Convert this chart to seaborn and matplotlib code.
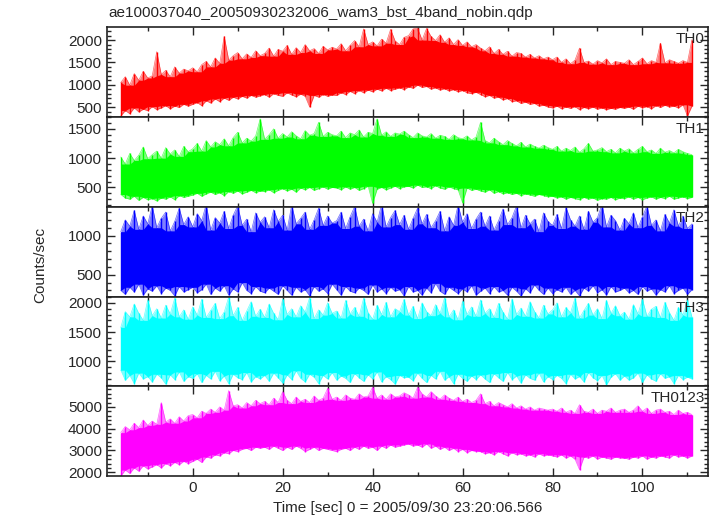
import numpy as np
import pandas as pd
import matplotlib
matplotlib.use("Agg")
import matplotlib.pyplot as plt
import seaborn as sns
from matplotlib.ticker import MultipleLocator

# time of each 1-s bin (sec since 2005/09/30 23:20:06.566)
times = list(range(-16, 112))

bands = ["TH0", "TH1", "TH2", "TH3", "TH0123"]
colors = ["#ff0000", "#00ff00", "#0000ff", "#00ffff", "#ff00ff"]

# per-second upper / lower extremes (counts/sec)
th0_hi = [1050, 1180, 990, 1250, 1100, 1300, 1150, 1200, 1740, 1230, 1320, 1180, 1400, 1260, 1350, 1310,
          1380, 1290, 1450, 1520, 1400, 1600, 1480, 2080, 1550, 1650, 1720, 1580, 1690, 1610, 1760, 1650,
          1700, 1820, 1640, 1790, 1750, 1880, 1680, 1830, 1720, 1900, 1760, 1810, 1700, 1860, 1780, 1840,
          1800, 1920, 1760, 1880, 1990, 1850, 2250, 1900, 1960, 1870, 2020, 1930, 2240, 1980, 1900, 2060,
          2100, 2250, 2270, 2000, 2260, 2080, 1990, 2120, 1950, 2050, 1900, 2010, 1880, 1960, 1850, 1900,
          1820, 1760, 1850, 1700, 1790, 1680, 1750, 1640, 1720, 1700, 1620, 1680, 1600, 1650, 1580, 1620,
          1560, 1620, 1500, 1580, 1470, 1550, 1820, 1500, 1530, 1460, 1540, 1490, 1580, 1450, 1520, 1500,
          1480, 1560, 1450, 1520, 1600, 1470, 1540, 1500, 1930, 1490, 1560, 1520, 1480, 1540, 1500, 2010]
th0_lo = [300, 420, 350, 480, 390, 450, 420, 510, 440, 480, 530, 460, 520, 490, 560, 520,
          560, 600, 530, 640, 590, 680, 620, 700, 650, 720, 680, 740, 700, 760, 720, 750,
          780, 720, 800, 760, 740, 820, 770, 730, 790, 740, 500, 760, 720, 780, 740, 770,
          760, 820, 780, 850, 800, 870, 820, 880, 840, 900, 860, 920, 870, 900, 930, 890,
          950, 920, 990, 940, 960, 900, 930, 880, 910, 860, 890, 840, 870, 820, 800, 830,
          780, 730, 760, 700, 720, 660, 690, 620, 640, 580, 610, 560, 580, 520, 540, 500,
          480, 520, 460, 500, 470, 510, 440, 490, 460, 500, 450, 480, 440, 470, 450, 490,
          470, 500, 450, 520, 480, 510, 460, 530, 490, 540, 500, 520, 480, 550, 300, 520]

th1_hi = [1020, 900, 1080, 960, 1050, 1190, 990, 1060, 1120, 1000, 1180, 1070, 1140, 1030, 1200, 1110,
          1160, 1250, 1120, 1300, 1190, 1280, 1230, 1330, 1210, 1350, 1440, 1260, 1340, 1290, 1380, 1670,
          1320, 1400, 1500, 1340, 1420, 1360, 1450, 1380, 1330, 1470, 1390, 1420, 1610, 1370, 1440, 1400,
          1380, 1460, 1350, 1430, 1400, 1480, 1360, 1440, 1420, 1670, 1390, 1450, 1370, 1430, 1410, 1460,
          1400, 1350, 1430, 1380, 1360, 1420, 1340, 1390, 1370, 1320, 1400, 1350, 1330, 1380, 1310, 1360,
          1610, 1300, 1260, 1340, 1280, 1230, 1300, 1250, 1210, 1270, 1190, 1240, 1200, 1170, 1220, 1180,
          1150, 1200, 1120, 1170, 1130, 1190, 1100, 1160, 1250, 1120, 1140, 1180, 1110, 1150, 1090, 1170,
          1120, 1160, 1090, 1150, 1200, 1110, 1140, 1080, 1170, 1100, 1130, 1090, 1150, 1110, 1080, 1060]
th1_lo = [380, 320, 300, 350, 280, 330, 290, 310, 270, 320, 300, 340, 290, 360, 330, 350,
          370, 400, 350, 390, 420, 380, 410, 360, 430, 400, 440, 390, 420, 450, 410, 440,
          430, 460, 410, 450, 480, 440, 470, 420, 490, 460, 500, 450, 480, 510, 470, 500,
          490, 460, 510, 470, 500, 450, 480, 520, 230, 470, 500, 460, 490, 520, 480, 510,
          520, 490, 540, 500, 510, 480, 530, 490, 470, 510, 480, 460, 240, 490, 450, 470,
          440, 420, 460, 400, 430, 390, 410, 380, 400, 360, 390, 370, 350, 380, 360, 340,
          350, 320, 340, 300, 330, 310, 290, 330, 300, 320, 280, 310, 300, 330, 290, 320,
          310, 340, 300, 330, 290, 320, 340, 300, 330, 310, 350, 300, 320, 340, 310, 330]

th2_hi = [1050, 1200, 1120, 1320, 1080, 1250, 1150, 1380, 1100, 1220, 1300, 1060, 1180, 1350, 1140, 1240,
          1110, 1280, 1190, 1400, 1070, 1230, 1160, 1310, 1090, 1260, 1380, 1130, 1210, 1050, 1290, 1170,
          1240, 1100, 1330, 1180, 1260, 1070, 1390, 1150, 1220, 1300, 1080, 1200, 1350, 1130, 1250, 1160,
          1190, 1300, 1090, 1240, 1370, 1120, 1210, 1060, 1280, 1170, 1400, 1110, 1230, 1320, 1140, 1260,
          1080, 1220, 1350, 1150, 1270, 1100, 1190, 1310, 1060, 1240, 1130, 1390, 1170, 1280, 1090, 1210,
          1300, 1120, 1250, 1070, 1190, 1340, 1140, 1230, 1380, 1100, 1260, 1150, 1210, 1050, 1290, 1180,
          1130, 1270, 1090, 1360, 1200, 1120, 1250, 1080, 1310, 1170, 1230, 1400, 1110, 1260, 1190, 1070,
          1220, 1150, 1290, 1100, 1240, 1380, 1130, 1200, 1060, 1270, 1160, 1330, 1120, 1250, 1090, 1150]
th2_lo = [300, 250, 340, 280, 380, 240, 320, 290, 360, 260, 330, 300, 230, 350, 280, 310,
          340, 270, 310, 380, 250, 330, 290, 360, 240, 320, 280, 400, 300, 260, 350, 290,
          270, 330, 290, 250, 360, 300, 240, 340, 280, 310, 230, 350, 290, 320, 260, 380,
          310, 240, 350, 290, 270, 330, 300, 250, 370, 280, 320, 260, 340, 290, 310, 230,
          350, 280, 300, 240, 330, 270, 390, 290, 250, 340, 300, 260, 320, 280, 360, 240,
          290, 330, 260, 350, 280, 300, 240, 340, 290, 230, 320, 270, 370, 300, 250, 330,
          260, 310, 280, 340, 250, 300, 230, 330, 290, 360, 270, 310, 240, 350, 280, 300,
          330, 270, 300, 250, 350, 290, 320, 240, 310, 280, 360, 260, 300, 330, 250, 310]

th3_hi = [1580, 1850, 1760, 1980, 1820, 1700, 2050, 1780, 1900, 1740, 1960, 1810, 2080, 1760, 1880, 1720,
          1930, 1790, 2060, 1750, 1870, 1990, 1730, 1840, 2100, 1780, 1920, 1700, 1860, 2020, 1770, 1890,
          1750, 1980, 1820, 1710, 2070, 1800, 1900, 1760, 1950, 1840, 2090, 1730, 1880, 1790, 2000, 1820,
          1860, 1740, 2040, 1810, 1920, 1770, 2080, 1830, 1720, 1960, 1800, 2010, 1760, 1900, 1850, 2060,
          1790, 1940, 1730, 2000, 1850, 1780, 1970, 1820, 2090, 1760, 1880, 1710, 2030, 1800, 1930, 1770,
          2050, 1820, 1900, 1750, 1990, 1840, 1720, 2070, 1800, 1910, 1770, 2020, 1850, 1740, 1960, 1810,
          1880, 2000, 1760, 1920, 1830, 2080, 1740, 1870, 1990, 1790, 1900, 1730, 2040, 1820, 1950, 1780,
          1840, 1720, 1970, 1810, 2060, 1770, 1890, 1940, 1750, 2010, 1830, 1700, 1920, 1790, 2050, 1760]
th3_lo = [850, 680, 760, 620, 800, 700, 740, 650, 780, 720, 610, 770, 690, 820, 660, 740,
          710, 790, 640, 760, 700, 830, 670, 750, 620, 780, 720, 690, 810, 650, 740, 700,
          760, 660, 800, 720, 630, 770, 690, 840, 710, 650, 780, 730, 620, 760, 700, 810,
          680, 750, 710, 640, 790, 720, 660, 770, 700, 820, 650, 740, 690, 610, 760, 720,
          730, 670, 800, 710, 640, 760, 700, 830, 680, 740, 620, 780, 710, 660, 750, 690,
          770, 700, 640, 790, 720, 660, 810, 690, 750, 630, 770, 710, 680, 800, 650, 740,
          690, 760, 710, 620, 780, 700, 740, 650, 810, 720, 670, 760, 600, 730, 790, 680,
          750, 680, 720, 800, 640, 770, 700, 660, 790, 710, 740, 620, 760, 690, 730, 700]

th0123_hi = [3820, 4100, 3950, 4250, 4050, 4400, 4150, 4350, 4200, 5200, 4300, 4450, 4250, 4550, 4350, 4600,
             4650, 4500, 4800, 4700, 4900, 4750, 5000, 4850, 5750, 5050, 5100, 4950, 5200, 5050, 5300, 5150,
             5250, 5100, 5400, 5200, 5700, 5300, 5150, 5450, 5250, 5350, 5200, 5500, 5300, 5400, 5850, 5350,
             5450, 5300, 5550, 5400, 5350, 5600, 5450, 5500, 5900, 5400, 5550, 5350, 5600, 5450, 5500, 5650,
             5550, 5400, 5900, 5600, 5450, 5700, 5500, 5350, 5550, 5400, 5300, 5450, 5250, 5350, 5200, 5300,
             5600, 5150, 5250, 5050, 5200, 5100, 5000, 5150, 4950, 5050, 4900, 5000, 4850, 4950, 4900, 4850,
             4900, 4800, 4950, 4750, 4850, 4700, 5100, 4800, 4750, 4900, 4700, 4850, 4800, 4950, 4750, 4850,
             4900, 4750, 4850, 5050, 4800, 4950, 4700, 4850, 4900, 4750, 4800, 4650, 4850, 4700, 4750, 4650]
th0123_lo = [1830, 2100, 1950, 2200, 2050, 2300, 2150, 2250, 2350, 2200, 2400, 2300, 2450, 2350, 2500, 2400,
             2500, 2600, 2450, 2700, 2650, 2800, 2750, 2900, 2850, 3000, 2950, 3050, 3100, 3000, 3150, 3100,
             3150, 3050, 3200, 3100, 3000, 3150, 3050, 3200, 3100, 2950, 3050, 3150, 3000, 3100, 3050, 3000,
             2950, 3050, 3100, 3000, 3150, 3050, 3200, 3100, 3150, 3000, 3200, 3100, 3250, 3150, 3200, 3250,
             3300, 3200, 3250, 3150, 3300, 3100, 3200, 3050, 3150, 3000, 3100, 2950, 3050, 2900, 3000, 2950,
             2950, 2850, 2900, 2800, 2950, 2850, 2750, 2900, 2800, 2850, 2750, 2800, 2700, 2850, 2750, 2800,
             2750, 2700, 2800, 2650, 2750, 2600, 2120, 2700, 2650, 2750, 2600, 2700, 2650, 2600, 2700, 2650,
             2650, 2600, 2700, 2650, 2750, 2600, 2700, 2650, 2750, 2700, 2650, 2800, 2700, 2750, 2650, 2750]

his = [th0_hi, th1_hi, th2_hi, th3_hi, th0123_hi]
los = [th0_lo, th1_lo, th2_lo, th3_lo, th0123_lo]

ylims = [(275, 2285), (170, 1700), (222, 1367), (575, 2107), (1830, 5945)]
ymajor = [500, 500, 500, 500, 1000]
yminor = [100, 100, 100, 100, 200]

sns.set_style("ticks")
plt.rcParams['font.family'] = ['Liberation Sans', 'DejaVu Sans']
plt.rcParams['font.size'] = 11

fig, axes = plt.subplots(5, 1, figsize=(7.17, 5.16), dpi=100, sharex=True)
fig.subplots_adjust(left=0.149, right=0.987, top=0.947, bottom=0.0775, hspace=0)

for ax, band, col, hi, lo, yl, ymj, ymn in zip(axes, bands, colors, his, los, ylims, ymajor, yminor):
    df = pd.DataFrame({"time": times, "hi": hi, "lo": lo})
    # dense core: what all neighbouring seconds share
    core_hi = df["hi"].rolling(3, center=True, min_periods=1).min()
    core_lo = df["lo"].rolling(3, center=True, min_periods=1).max()
    # lighter fringe out to each second's extremes, solid core inside
    ax.fill_between(df["time"], df["lo"], df["hi"], color=col, lw=0, alpha=0.5)
    ax.fill_between(df["time"], core_lo, core_hi, color=col, lw=0)
    ax.vlines(df["time"], df["lo"], df["hi"], color=col, lw=1.0)
    sns.lineplot(data=df, x="time", y="hi", ax=ax, color=col, lw=0.5, alpha=0.6, estimator=None)
    sns.lineplot(data=df, x="time", y="lo", ax=ax, color=col, lw=0.5, alpha=0.6, estimator=None)
    ax.set_ylim(*yl)
    ax.set_xlim(-19.1, 114.5)
    ax.yaxis.set_major_locator(MultipleLocator(ymj))
    ax.yaxis.set_minor_locator(MultipleLocator(ymn))
    ax.xaxis.set_major_locator(MultipleLocator(20))
    ax.xaxis.set_minor_locator(MultipleLocator(10))
    ax.tick_params(which="both", direction="in", top=True, right=True, labelsize=11)
    ax.tick_params(which="major", length=6, width=1)
    ax.tick_params(which="minor", length=3, width=1)
    ax.set_xlabel("")
    ax.set_ylabel("")
    for s in ax.spines.values():
        s.set_color("#222222")
        s.set_linewidth(1.2)
    ax.text(0.995, 0.95, band, transform=ax.transAxes, ha="right", va="top", fontsize=11)

fig.text(0.151, 1 - 13 / 516, "ae100037040_20050930232006_wam3_bst_4band_nobin.qdp",
         ha="left", va="center", fontsize=11)
fig.text(0.056, 0.487, "Counts/sec", rotation=90, ha="center", va="center", fontsize=11)
fig.text(0.568, 1 - 508 / 516, "Time [sec] 0 = 2005/09/30 23:20:06.566",
         ha="center", va="center", fontsize=11)

fig.savefig("out.png", dpi=100)
